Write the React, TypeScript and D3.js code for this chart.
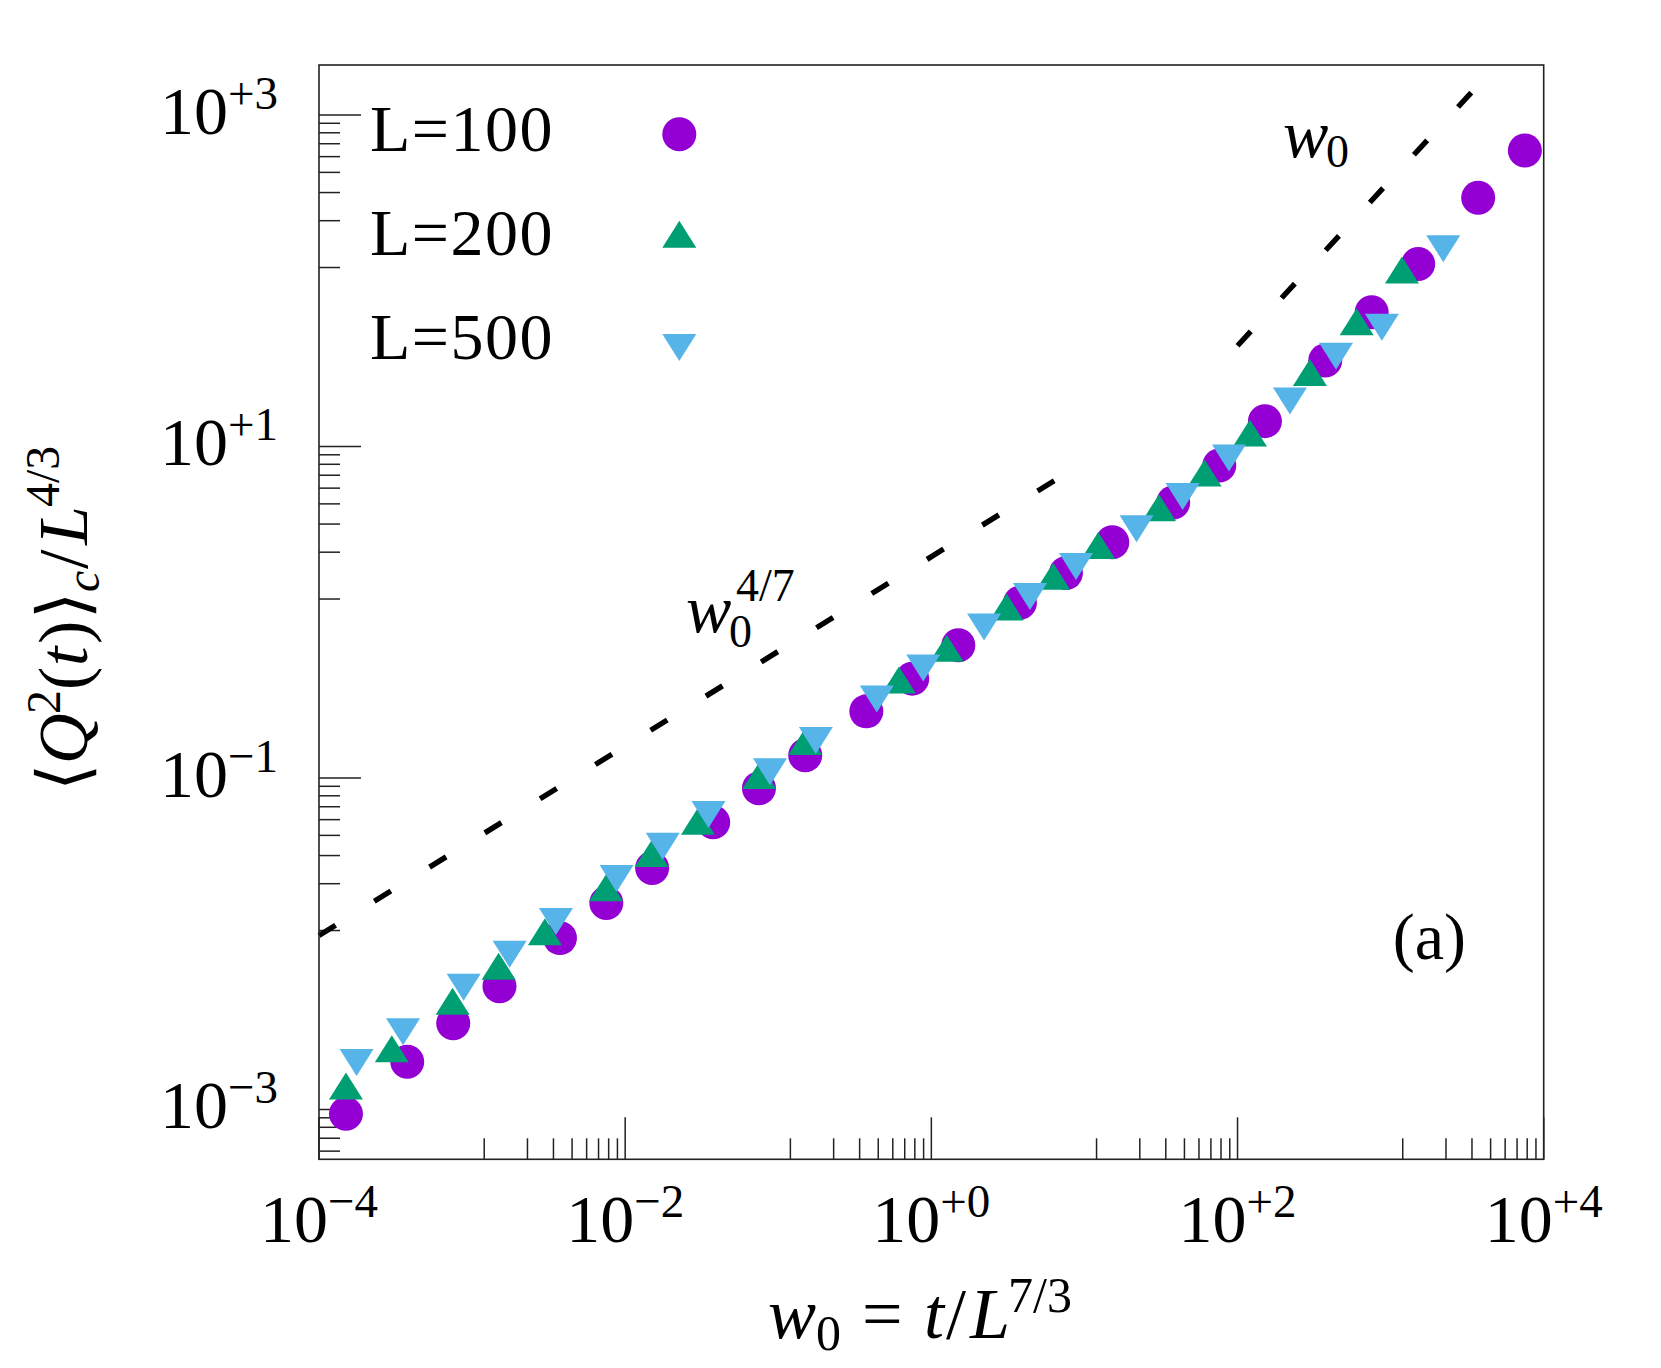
import * as d3 from 'd3';

// Q^2 scaling collapse, three system sizes
const w0L100 = [1.5e-4, 3.77e-4, 7.53e-4, 1.51e-3, 3.75e-3, 7.53e-3, 1.5e-2, 3.76e-2, 7.48e-2, 0.15, 0.376, 0.75, 1.5, 3.79, 7.57, 15.2, 38.0, 76.0, 151, 374, 752, 1514, 3733, 7534];
const qL100 = [9.42e-4, 1.94e-3, 3.31e-3, 5.53e-3, 1.08e-2, 1.76e-2, 2.86e-2, 5.4e-2, 8.65e-2, 0.137, 0.252, 0.397, 0.631, 1.14, 1.72, 2.64, 4.59, 7.67, 14.2, 33.0, 64.4, 126, 316, 610];

const w0L200 = [1.5e-4, 2.99e-4, 7.46e-4, 1.49e-3, 2.99e-3, 7.5e-3, 1.49e-2, 2.99e-2, 7.52e-2, 0.15, 0.614, 1.26, 3.1, 6.25, 12.3, 30.7, 61.0, 120.5, 297, 600, 1186];
const qL200 = [1.3e-3, 2.18e-3, 4.22e-3, 6.87e-3, 1.107e-2, 2.04e-2, 3.29e-2, 5.14e-2, 9.7e-2, 0.156, 0.366, 0.569, 1.01, 1.545, 2.37, 4.01, 6.49, 11.3, 26.2, 53.1, 109];

const w0L500 = [1.76e-4, 3.54e-4, 8.81e-4, 1.76e-3, 3.53e-3, 8.79e-3, 1.76e-2, 3.5e-2, 8.83e-2, 0.176, 0.44, 0.885, 2.21, 4.41, 8.81, 21.9, 43.8, 87.9, 220, 440, 877, 2208];
const qL500 = [2.04e-3, 3.13e-3, 5.81e-3, 9.18e-3, 1.45e-2, 2.63e-2, 4.12e-2, 6.4e-2, 0.116, 0.179, 0.318, 0.49, 0.867, 1.324, 2.01, 3.39, 5.31, 9.06, 20.0, 37.2, 55.7, 166];

const seriesNames = ['L=100', 'L=200', 'L=500'];
const seriesColors = ['#9400d3', '#009e73', '#56b4e9'];
const seriesShapes = ['circle', 'up', 'down'];

// guide lines (end points)
const guideSlow = { w0: [1e-4, 7], q: [0.0112, 6.57] }; // ~ w0^{4/7}
const guideLinear = { w0: [100, 4000], q: [40.5, 1620] }; // ~ w0

const xMajor = [1e-4, 1e-2, 1, 1e2, 1e4];
const xSup = ['−4', '−2', '+0', '+2', '+4'];
const yMajor = [1e-3, 1e-1, 1e1, 1e3];
const ySup = ['−3', '−1', '+1', '+3'];

const W = 1661;
const H = 1368;
const margin = { top: 65, right: 117.3, bottom: 208.7, left: 319 };
const iw = W - margin.left - margin.right;
const ih = H - margin.top - margin.bottom;

const serif = '"Liberation Serif", "DejaVu Serif", serif';

const x = d3.scaleLog().domain([1e-4, 1e4]).range([margin.left, margin.left + iw]);
const y = d3.scaleLog().domain([5e-4, 2e3]).range([margin.top + ih, margin.top]);

// 8 linear minor ticks between consecutive major ticks (factor 100 apart)
function minorTicks(majors: number[], domain: number[]) {
  const ext = [majors[0] / 100, ...majors, majors[majors.length - 1] * 100];
  const out: number[] = [];
  for (let i = 0; i < ext.length - 1; i++) {
    const a = ext[i], b = ext[i + 1];
    for (let k = 1; k <= 8; k++) {
      const v = a + (k * (b - a)) / 9;
      if (v > domain[0] && v < domain[1]) out.push(v);
    }
  }
  return out;
}

const triW = 34;
const triH = 27;
const triUp = `M0,${(-2 * triH) / 3}L${triW / 2},${triH / 3}L${-triW / 2},${triH / 3}Z`;
const triDown = `M0,${(2 * triH) / 3}L${triW / 2},${-triH / 3}L${-triW / 2},${-triH / 3}Z`;

function Marker({ shape, color, cx, cy }: { shape: string; color: string; cx: number; cy: number }) {
  if (shape === 'circle') return <circle cx={cx} cy={cy} r={17} fill={color} />;
  return <path d={shape === 'up' ? triUp : triDown} transform={`translate(${cx},${cy})`} fill={color} />;
}

export default function App() {
  const series = [
    { w0: w0L100, q: qL100 },
    { w0: w0L200, q: qL200 },
    { w0: w0L500, q: qL500 },
  ];
  const line = d3.line<number[]>().x((d) => d[0]).y((d) => d[1]);
  const guidePath = (g: { w0: number[]; q: number[] }) =>
    line(g.w0.map((v, i) => [x(v), y(g.q[i])])) || '';

  const xMinor = minorTicks(xMajor, x.domain());
  const yMinor = minorTicks(yMajor, y.domain());
  const bottom = margin.top + ih;
  const tickColor = '#222';

  return (
    <div style={{ position: 'absolute', left: 0, top: 0 }}>
      <svg width={W} height={H} style={{ display: 'block', background: '#fff' }} fontFamily={serif}>
        <rect x={0} y={0} width={W} height={H} fill="#fff" />

        {/* ticks, inward */}
        <g stroke={tickColor} strokeWidth={1.5}>
          {xMajor.map((v) => (
            <line key={'xM' + v} x1={x(v)} x2={x(v)} y1={bottom} y2={bottom - 42} />
          ))}
          {xMinor.map((v) => (
            <line key={'xm' + v} x1={x(v)} x2={x(v)} y1={bottom} y2={bottom - 21} />
          ))}
          {yMajor.map((v) => (
            <line key={'yM' + v} x1={margin.left} x2={margin.left + 42} y1={y(v)} y2={y(v)} />
          ))}
          {yMinor.map((v) => (
            <line key={'ym' + v} x1={margin.left} x2={margin.left + 21} y1={y(v)} y2={y(v)} />
          ))}
        </g>

        {/* tick labels */}
        {xMajor.map((v, i) => (
          <text key={'xl' + v} x={x(v)} y={bottom + 82.5} textAnchor="middle" fontSize={68} fill="#000">
            <tspan>10</tspan>
            <tspan fontSize={47} dy={-25}>{xSup[i]}</tspan>
          </text>
        ))}
        {yMajor.map((v, i) => (
          <text key={'yl' + v} x={278} y={y(v) + 19} textAnchor="end" fontSize={68} fill="#000">
            <tspan>10</tspan>
            <tspan fontSize={47} dy={-25}>{ySup[i]}</tspan>
          </text>
        ))}

        {/* guide lines */}
        {[guideSlow, guideLinear].map((g, i) => (
          <path key={'g' + i} d={guidePath(g)} fill="none" stroke="#000" strokeWidth={5.4} strokeDasharray="19.5 45.5" />
        ))}
        <text x={686} y={631.7} fontSize={68} fill="#000" fontStyle="italic">w</text>
        <text x={729} y={647} fontSize={46} fill="#000">0</text>
        <text x={736} y={601} fontSize={46} fill="#000">4/7</text>
        <text x={1283} y={156.7} fontSize={68} fill="#000" fontStyle="italic">w</text>
        <text x={1326} y={167} fontSize={46} fill="#000">0</text>

        {/* data */}
        {series.map((s, si) => (
          <g key={'s' + si}>
            {s.w0.map((v, i) => (
              <Marker key={i} shape={seriesShapes[si]} color={seriesColors[si]} cx={x(v)} cy={y(s.q[i])} />
            ))}
          </g>
        ))}

        {/* legend */}
        {seriesNames.map((name, i) => (
          <g key={'lg' + i}>
            <text x={370} y={151 + 104 * i} fontSize={66} fill="#000" letterSpacing={1.5}>
              {name}
            </text>
            <Marker shape={seriesShapes[i]} color={seriesColors[i]} cx={679.3} cy={134.3 + 104.4 * i} />
          </g>
        ))}

        <text x={1466} y={959} textAnchor="end" fontSize={66} fill="#000">(a)</text>

        {/* frame */}
        <rect x={margin.left} y={margin.top} width={iw} height={ih} fill="none" stroke="#222" strokeWidth={1.6} />

        {/* x axis label */}
        <text y={1338} fontSize={72} fill="#000">
          <tspan x={768} fontStyle="italic">w</tspan>
          <tspan x={816} dy={12} fontSize={50}>0</tspan>
          <tspan x={862} dy={-12}>=</tspan>
          <tspan x={924} fontStyle="italic">t</tspan>
          <tspan x={946}>/</tspan>
          <tspan x={970} fontStyle="italic">L</tspan>
          <tspan x={1008} dy={-26} fontSize={50}>7/3</tspan>
        </text>

        {/* y axis label */}
        <g transform="translate(87,791) rotate(-90)">
          <text y={0} fontSize={70} fill="#000">
            <tspan x={0} fontFamily='"DejaVu Serif", serif'>⟨</tspan>
            <tspan x={27} fontStyle="italic">Q</tspan>
            <tspan x={77} dy={-27} fontSize={48}>2</tspan>
            <tspan x={101} dy={27}>(</tspan>
            <tspan x={125} fontStyle="italic">t</tspan>
            <tspan x={147}>)</tspan>
            <tspan x={172} fontFamily='"DejaVu Serif", serif'>⟩</tspan>
            <tspan x={199} dy={12} fontSize={48} fontStyle="italic">c</tspan>
            <tspan x={222} dy={-12}>/</tspan>
            <tspan x={246} fontStyle="italic">L</tspan>
            <tspan x={284} dy={-28} fontSize={48}>4/3</tspan>
          </text>
        </g>
      </svg>
    </div>
  );
}
